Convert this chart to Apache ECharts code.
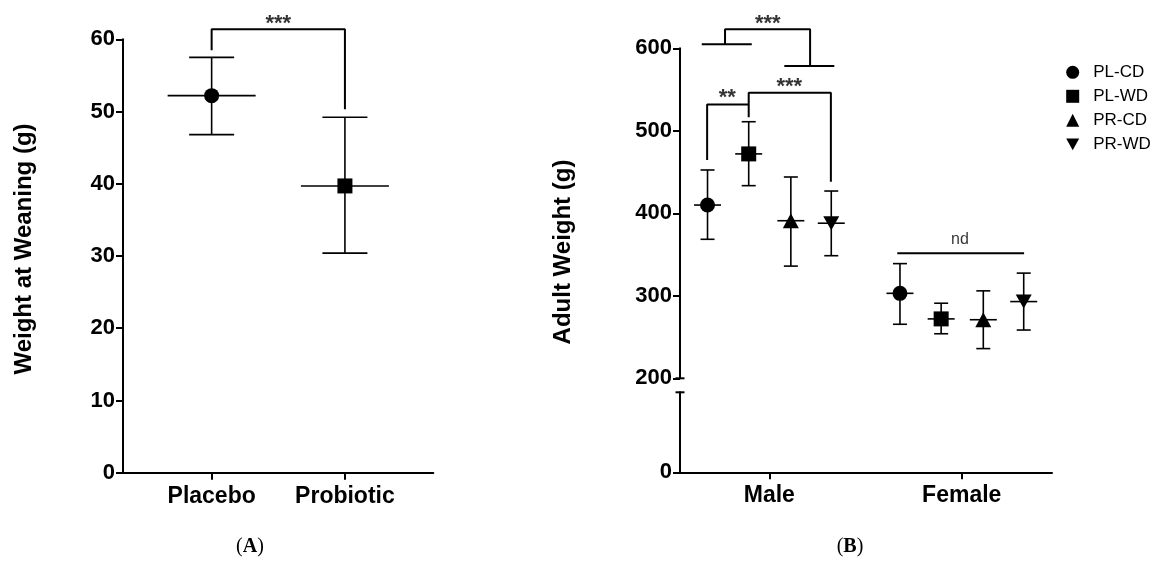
<!DOCTYPE html>
<html>
<head>
<meta charset="utf-8">
<script src="https://cdn.jsdelivr.net/npm/echarts@6/dist/echarts.min.js"></script>
<style>
html, body { margin: 0; padding: 0; background: #fff; }
#main { width: 1156px; height: 562px; }
</style>
</head>
<body>
<div id="main"></div>
<script>
// ---- panel A: weight at weaning ----
var weanCats = ['Placebo', 'Probiotic'];
var weanMean = [52.2, 39.7];
var weanUpper = [57.5, 49.2];
var weanLower = [46.8, 30.4];
var weanSymbols = ['circle', 'rect'];

// ---- panel B: adult weight ----
var sexCats = ['Male', 'Female'];
var groups = ['PL-CD', 'PL-WD', 'PR-CD', 'PR-WD'];
var maleMean = [410, 472, 391, 388];
var maleUpper = [452.5, 511, 444, 427];
var maleLower = [368.5, 433.5, 336, 348.6];
var femaleMean = [303, 272, 271, 293];
var femaleUpper = [339, 291, 306, 327.5];
var femaleLower = [265.5, 254, 236, 258.5];

// significance brackets (data space)
var bracketA = [[1, 58.5], [1, 61.4], [2, 61.4], [2, 50.3]];
var bracketPL = [[0.649, 605], [0.909, 605]];
var bracketPR = [[1.078, 578.5], [1.338, 578.5]];
var bracketPLvsPR = [[0.770, 605], [0.770, 623], [1.212, 623], [1.212, 578.5]];
var bracketCDvsWD = [[0.677, 464.6], [0.677, 532], [0.893, 532], [0.893, 516.4]];
var bracketWDvsPRWD = [[0.893, 532], [0.893, 546.2], [1.320, 546.2], [1.320, 438.3]];
var bracketNd = [[1.665, 351.5], [2.324, 351.5]];
var sigLabelsA = [[1.5, 62.1, '***']];
var sigLabelsB = [[0.992, 629.3, '***'], [0.782, 539.5, '**'], [1.104, 553, '***'], [1.991, 368.6, 'nd']];

var FONT = '"Liberation Sans", Arial, Helvetica, sans-serif';
var SERIF = '"Liberation Serif", "Times New Roman", serif';
var downTri = 'path://M0,0L10,0L5,9Z';
var groupSymbols = ['circle', 'rect', 'triangle', downTri];
var groupSizes = [15, [15, 15], [16, 15], [16, 14]];
var groupOffsets = [-0.321, -0.107, 0.112, 0.322];

var chart = echarts.init(document.getElementById('main'));

function errRender(capHalf, meanHalf) {
	return function (params, api) {
		var x = api.value(0);
		var m = api.coord([x, api.value(1)]);
		var lo = api.coord([x, api.value(2)]);
		var hi = api.coord([x, api.value(3)]);
		function seg(x1, y1, x2, y2) {
			return { type: 'line', shape: { x1: x1, y1: y1, x2: x2, y2: y2 }, style: { stroke: '#000', lineWidth: 1.6 } };
		}
		return {
			type: 'group',
			children: [
				seg(hi[0], hi[1], lo[0], lo[1]),
				seg(hi[0] - capHalf, hi[1], hi[0] + capHalf, hi[1]),
				seg(lo[0] - capHalf, lo[1], lo[0] + capHalf, lo[1]),
				seg(m[0] - meanHalf, m[1], m[0] + meanHalf, m[1])
			]
		};
	};
}

function axisBase() {
	return {
		axisLine: { onZero: false, lineStyle: { color: '#000', width: 2 } },
		axisTick: { length: 7, lineStyle: { color: '#000', width: 2 } },
		axisLabel: { color: '#000', fontWeight: 'bold', fontSize: 22, fontFamily: FONT, margin: 8 },
		splitLine: { show: false }
	};
}

function bracketSeries(pts, xi, yi) {
	return {
		type: 'line', xAxisIndex: xi, yAxisIndex: yi, data: pts, symbol: 'none', clip: false,
		silent: true, lineStyle: { color: '#000', width: 2 }, z: 5
	};
}

function labelSeries(items, xi, yi, size, weight) {
	return {
		type: 'scatter', xAxisIndex: xi, yAxisIndex: yi, symbolSize: 0, clip: false, silent: true,
		data: items.map(function (d) { return { value: [d[0], d[1]], name: d[2] }; }),
		label: {
			show: true, position: 'inside', color: '#000', fontFamily: FONT,
			fontSize: size, fontWeight: weight, textBorderWidth: 0, textShadowBlur: 0,
			formatter: function (p) { return p.name; }
		},
		labelLayout: { hideOverlap: false },
		z: 6
	};
}

// series
var series = [];

// panel A error bars + markers
series.push({
	type: 'custom', xAxisIndex: 0, yAxisIndex: 0,
	renderItem: errRender(22.5, 44),
	data: weanCats.map(function (c, i) { return [i + 1, weanMean[i], weanLower[i], weanUpper[i]]; }),
	z: 2
});
weanCats.forEach(function (c, i) {
	series.push({
		type: 'scatter', name: c, xAxisIndex: 0, yAxisIndex: 0,
		symbol: weanSymbols[i], symbolSize: 15,
		itemStyle: { color: '#000', opacity: 1 },
		data: [[i + 1, weanMean[i]]], z: 3
	});
});
series.push(bracketSeries(bracketA, 0, 0));
series.push(labelSeries(sigLabelsA, 0, 0, 22, 'bold'));

// panel B error bars + markers
var errB = [];
groups.forEach(function (g, i) {
	errB.push([1 + groupOffsets[i], maleMean[i], maleLower[i], maleUpper[i]]);
	errB.push([2 + groupOffsets[i], femaleMean[i], femaleLower[i], femaleUpper[i]]);
});
series.push({
	type: 'custom', xAxisIndex: 1, yAxisIndex: 1,
	renderItem: errRender(7, 13.5), data: errB, z: 2
});
groups.forEach(function (g, i) {
	series.push({
		type: 'scatter', name: g, xAxisIndex: 1, yAxisIndex: 1,
		symbol: groupSymbols[i], symbolSize: groupSizes[i],
		itemStyle: { color: '#000', opacity: 1 },
		data: [[1 + groupOffsets[i], maleMean[i]], [2 + groupOffsets[i], femaleMean[i]]], z: 3
	});
});
[bracketPL, bracketPR, bracketPLvsPR, bracketCDvsWD, bracketWDvsPRWD, bracketNd].forEach(function (b) {
	series.push(bracketSeries(b, 1, 1));
});
series.push(labelSeries(sigLabelsB.slice(0, 3), 1, 1, 22, 'bold'));
series.push(labelSeries(sigLabelsB.slice(3), 1, 1, 16, 'normal'));

// axes
var xA = axisBase();
xA.type = 'value'; xA.gridIndex = 0; xA.min = 0.335; xA.max = 2.663;
xA.axisTick.customValues = [1, 2];
xA.axisLabel.customValues = [1, 2];
xA.axisLabel.fontSize = 23; xA.axisLabel.margin = 12;
xA.axisLabel.formatter = function (v) { return weanCats[Math.round(v) - 1] || ''; };

var xBTop = { type: 'value', gridIndex: 1, min: 0.536, max: 2.469, show: false };

var xB = axisBase();
xB.type = 'value'; xB.gridIndex = 2; xB.min = 0.536; xB.max = 2.469;
xB.axisTick.customValues = [1, 2];
xB.axisLabel.customValues = [1, 2];
xB.axisLabel.fontSize = 23; xB.axisLabel.margin = 12;
xB.axisLabel.formatter = function (v) { return sexCats[Math.round(v) - 1] || ''; };

var yA = axisBase();
yA.type = 'value'; yA.gridIndex = 0; yA.min = 0; yA.max = 60; yA.interval = 10;

var yBTop = axisBase();
yBTop.type = 'value'; yBTop.gridIndex = 1; yBTop.min = 200; yBTop.max = 600; yBTop.interval = 100;

var yBLow = axisBase();
yBLow.type = 'value'; yBLow.gridIndex = 2; yBLow.min = 0; yBLow.max = 97;
yBLow.axisTick.customValues = [0];
yBLow.axisLabel.customValues = [0];

var option = {
	backgroundColor: '#fff',
	animation: false,
	grid: [
		{ left: 123, top: 39.3, width: 310.3, height: 433.4 },
		{ left: 680, top: 48.3, width: 372, height: 330 },
		{ left: 680, top: 392.3, width: 372, height: 80 }
	],
	xAxis: [xA, xBTop, xB],
	yAxis: [yA, yBTop, yBLow],
	legend: {
		orient: 'vertical', left: 1061.2, top: 58.8,
		itemWidth: 13, itemHeight: 13, itemGap: 7,
		selectedMode: false,
		data: groups.map(function (g, i) { return { name: g, icon: groupSymbols[i] }; }),
		itemStyle: { color: '#000' },
		textStyle: { color: '#000', fontSize: 17, lineHeight: 17, fontFamily: FONT, padding: [0, 0, 0, 9] }
	},
	graphic: [
		{ type: 'text', x: 24.5, y: 249, rotation: Math.PI / 2,
			style: { text: 'Weight at Weaning (g)', fill: '#000', font: 'bold 24px ' + FONT, align: 'center', verticalAlign: 'middle' } },
		{ type: 'text', x: 563.5, y: 252, rotation: Math.PI / 2,
			style: { text: 'Adult Weight (g)', fill: '#000', font: 'bold 24px ' + FONT, align: 'center', verticalAlign: 'middle' } },
		// axis break caps
		{ type: 'line', shape: { x1: 675.5, y1: 378.3, x2: 684.5, y2: 378.3 }, style: { stroke: '#000', lineWidth: 2 } },
		{ type: 'line', shape: { x1: 675.5, y1: 392.3, x2: 684.5, y2: 392.3 }, style: { stroke: '#000', lineWidth: 2 } },
		{ type: 'text', x: 250, y: 547,
			style: { text: '({b|A})', fill: '#000', font: '20px ' + SERIF, align: 'center', verticalAlign: 'middle',
				rich: { b: { fontWeight: 'bold', fontSize: 20, fontFamily: SERIF } } } },
		{ type: 'text', x: 850, y: 547,
			style: { text: '({b|B})', fill: '#000', font: '20px ' + SERIF, align: 'center', verticalAlign: 'middle',
				rich: { b: { fontWeight: 'bold', fontSize: 20, fontFamily: SERIF } } } }
	],
	series: series
};

chart.setOption(option);
</script>
</body>
</html>
